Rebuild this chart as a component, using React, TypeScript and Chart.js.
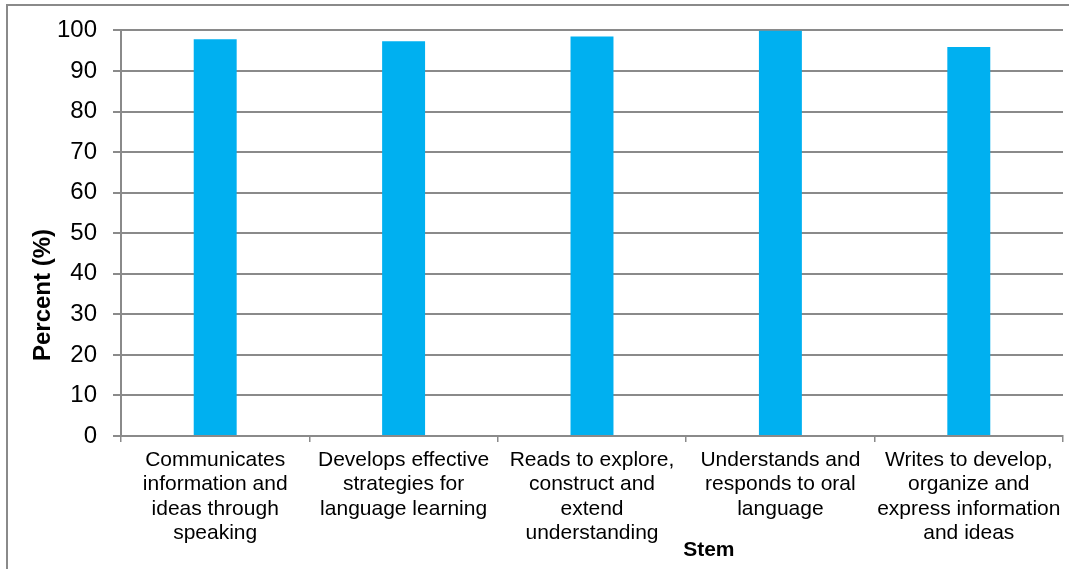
import React, { useEffect, useRef } from "react";
import { Chart, registerables } from "chart.js";

Chart.register(...registerables);

const categories: string[][] = [
  ["Communicates", "information and", "ideas through", "speaking"],
  ["Develops effective", "strategies for", "language learning"],
  ["Reads to explore,", "construct and", "extend", "understanding"],
  ["Understands and", "responds to oral", "language"],
  ["Writes to develop,", "organize and", "express information", "and ideas"],
];
const percentValues: number[] = [97.8, 97.3, 98.5, 100, 95.9];
const yTicks: number[] = [0, 10, 20, 30, 40, 50, 60, 70, 80, 90, 100];
const yTitle = "Percent (%)";
const xTitle = "Stem";

const FONT = "'Liberation Sans', Arial, sans-serif";
const GRID = "#8a8a8a";

export default function App() {
  const ref = useRef<HTMLCanvasElement | null>(null);

  useEffect(() => {
    if (!ref.current) return;
    const decor = {
      id: "decor",
      beforeDraw(chart: any) {
        const ctx = chart.ctx;
        ctx.save();
        ctx.fillStyle = "#ffffff";
        ctx.fillRect(0, 0, chart.width, chart.height);
        ctx.restore();
      },
      afterDraw(chart: any) {
        const ctx = chart.ctx;
        const area = chart.chartArea;
        ctx.save();
        ctx.strokeStyle = GRID;
        ctx.lineWidth = 2;
        ctx.strokeRect(7, 5, 1200, 700);
        ctx.fillStyle = "#000";
        ctx.font = `bold 24px ${FONT}`;
        ctx.textAlign = "center";
        ctx.textBaseline = "middle";
        ctx.translate(43, 295);
        ctx.rotate(-Math.PI / 2);
        ctx.fillText(yTitle, 0, 0);
        ctx.restore();
        ctx.save();
        ctx.fillStyle = "#000";
        ctx.font = `bold 21px ${FONT}`;
        ctx.textAlign = "center";
        ctx.textBaseline = "alphabetic";
        ctx.fillText(xTitle, area.left + (area.right - area.left) * 0.624, 556);
        ctx.restore();
      },
    };

    const chart = new Chart(ref.current, {
      type: "bar",
      data: {
        labels: categories,
        datasets: [
          {
            data: percentValues,
            backgroundColor: "#00B0F0",
            borderWidth: 0,
            barPercentage: 0.228,
            categoryPercentage: 1,
          },
        ],
      },
      options: {
        animation: false,
        responsive: false,
        maintainAspectRatio: false,
        layout: { padding: { left: 0, top: 30, right: 6, bottom: 0 } },
        plugins: {
          legend: { display: false },
          tooltip: { enabled: false },
          title: { display: false },
        },
        scales: {
          x: {
            offset: true,
            afterFit: (s: any) => {
              s.height = 133;
            },
            grid: {
              offset: true,
              drawOnChartArea: false,
              drawTicks: true,
              tickLength: 6,
              color: GRID,
              lineWidth: 1.5,
            },
            border: { display: true, color: GRID, width: 2 },
            ticks: {
              autoSkip: false,
              maxRotation: 0,
              minRotation: 0,
              padding: 6,
              color: "#000",
              font: { family: FONT, size: 21, lineHeight: 1.16 },
            },
          },
          y: {
            min: 0,
            max: 100,
            afterFit: (s: any) => {
              s.width = 121;
            },
            afterBuildTicks: (s: any) => {
              s.ticks = yTicks.map((v) => ({ value: v }));
            },
            grid: {
              drawOnChartArea: true,
              drawTicks: true,
              tickLength: 8,
              color: GRID,
              lineWidth: 2,
            },
            border: { display: true, color: GRID, width: 2 },
            ticks: {
              padding: 16,
              color: "#000",
              font: { family: FONT, size: 24 },
            },
          },
        },
      },
      plugins: [decor],
    });
    return () => chart.destroy();
  }, []);

  return (
    <div style={{ position: "absolute", left: 0, top: 0, width: 1069, height: 569 }}>
      <canvas ref={ref} width={1069} height={569} style={{ width: 1069, height: 569 }} />
    </div>
  );
}
